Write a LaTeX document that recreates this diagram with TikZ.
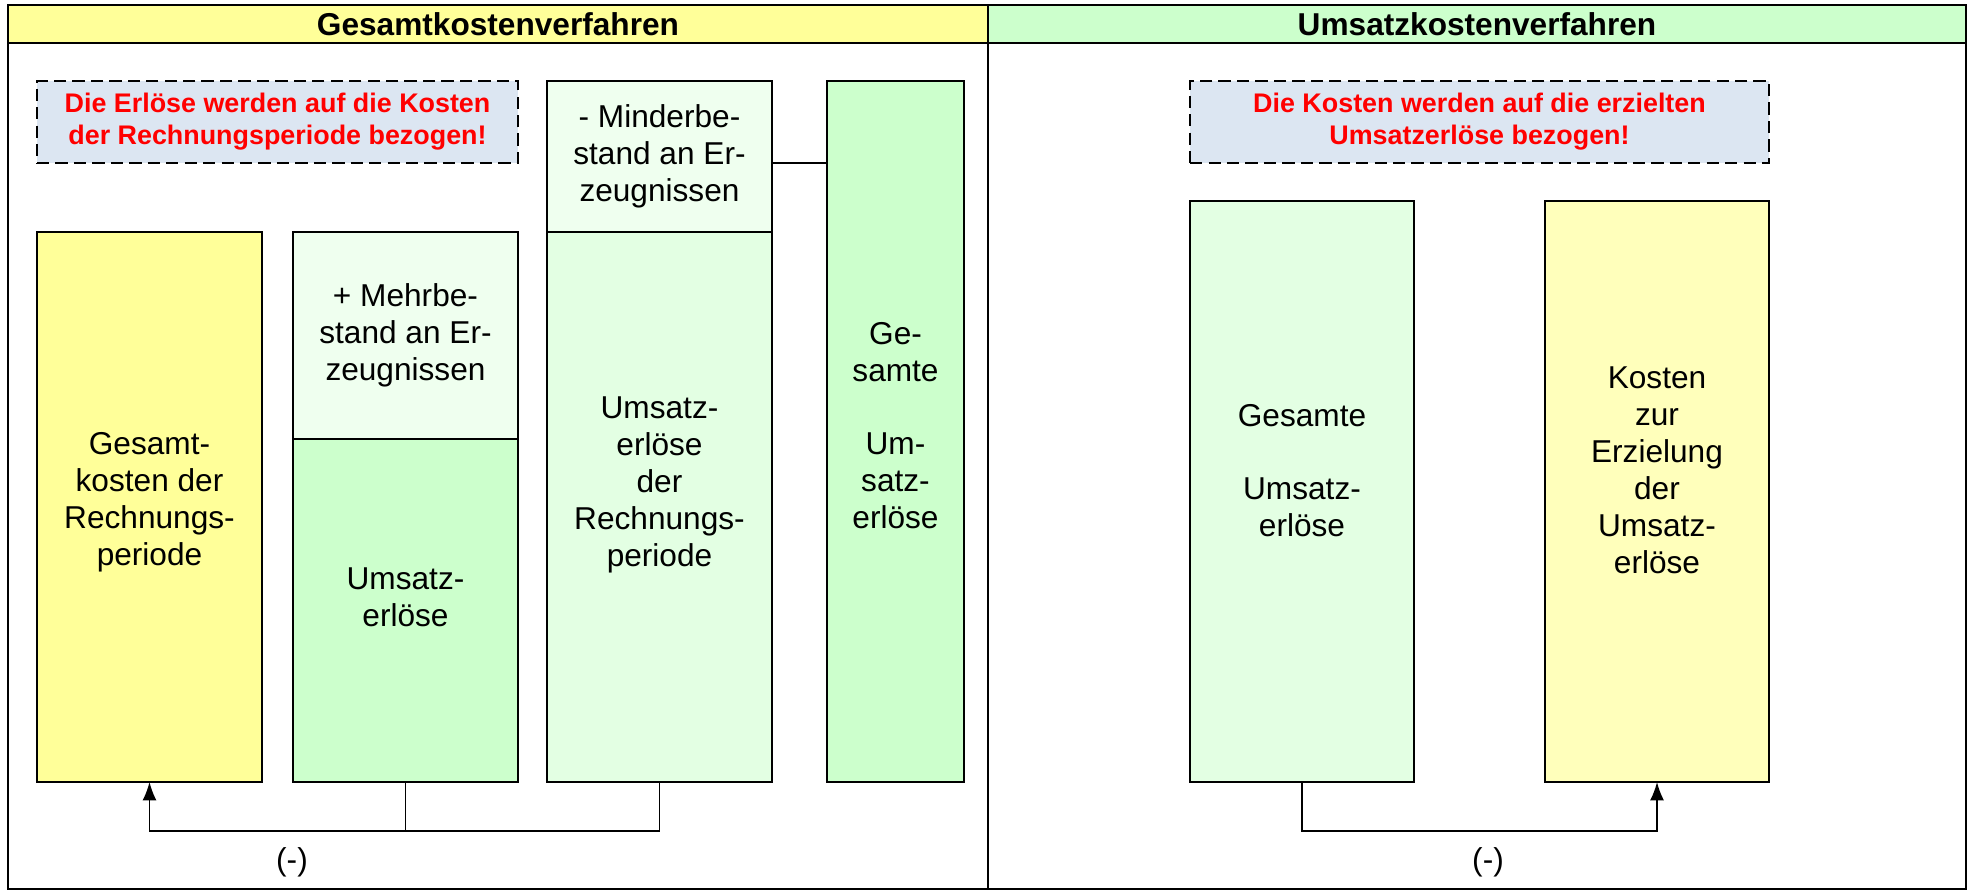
\documentclass[tikz,border=0pt]{standalone}
\usepackage{fontspec}
\setmainfont{Liberation Sans}
\usepackage{xcolor}
\usepackage{tikz}
\usetikzlibrary{arrows.meta,positioning}
\definecolor{kopfgelb}{HTML}{FFFF99}
\definecolor{kopfgruen}{HTML}{CCFFCC}
\definecolor{hinweisblau}{HTML}{DCE6F2}
\definecolor{blassgruen}{HTML}{EFFFEF}
\definecolor{mittelgruen}{HTML}{E3FFE3}
\definecolor{hellgelb}{HTML}{FFFFBB}
\tikzstyle{saeule} = [rectangle, draw, line width=1pt, outer sep=0pt, minimum width=4.5cm]
\tikzstyle{line} = [draw, line width=1pt, -{Latex[length=10.5pt,width=8pt]}]

\begin{document}
\begin{tikzpicture}[x=0.02cm, y=-0.02cm]
    % Style definitions
    \tikzstyle{kopf} = [rectangle, draw, line width=1.2pt, outer sep=0pt,
        minimum width=19.6cm, minimum height=0.76cm, font=\bfseries\fontsize{18}{21}\selectfont]
    \tikzstyle{hinweis} = [rectangle, draw, line width=1pt, dash pattern=on 7pt off 3.5pt,
        fill=hinweisblau, text=red, align=center, minimum height=1.64cm,
        font=\bfseries\fontsize{15.3}{18.3}\selectfont]
    \tikzstyle{txt} = [align=center, font=\fontsize{18}{21}\selectfont]

    \useasboundingbox (0,0) rectangle (1971,891);

    % Headers and frame
    \node [kopf, fill=kopfgelb] (gkvkopf) at (498,24) {Gesamtkostenverfahren};
    \node [kopf, fill=kopfgruen, minimum width=19.56cm] (ukvkopf) at (1477,24) {Umsatzkostenverfahren};
    \draw [line width=1.2pt] (8,5) rectangle (1966,889);
    \draw [line width=1.2pt] (988,5) -- (988,889);

    % Notes
    \node [hinweis, minimum width=9.62cm] (erloeshinweis) at (277.5,122)
        {Die Erlöse werden auf die Kosten\\der Rechnungsperiode bezogen!};
    \node [hinweis, minimum width=11.58cm] (kostenhinweis) at (1479.5,122)
        {Die Kosten werden auf die erzielten\\Umsatzerlöse bezogen!};

    % Gesamtkostenverfahren columns
    \node [saeule, fill=kopfgelb, minimum height=11cm] (gesamtkosten) at (149.5,507) {};
    \node [saeule, fill=kopfgruen, minimum height=6.86cm] (umsatzerl) at (405.5,610.5) {};
    \node [saeule, fill=blassgruen, minimum height=4.14cm, above=0pt of umsatzerl] (mehrbestand) {};
    \node [saeule, fill=mittelgruen, minimum height=11cm] (rperiode) at (659.5,507) {};
    \node [saeule, fill=blassgruen, minimum height=3.02cm, above=0pt of rperiode] (minderbestand) {};
    \node [saeule, fill=kopfgruen, minimum width=2.74cm, minimum height=14.02cm] (gesamtumsatz) at (895.5,431.5) {};

    % Umsatzkostenverfahren columns
    \node [saeule, fill=mittelgruen, minimum width=4.48cm, minimum height=11.62cm] (ukvumsatz) at (1302,491.5) {};
    \node [saeule, fill=hellgelb, minimum width=4.48cm, minimum height=11.62cm] (ukvkosten) at (1657,491.5) {};

    % Column texts
    \node [txt] (gesamtkosten-t) at ([yshift=0.1cm]gesamtkosten.center) {Gesamt-\\kosten der\\Rechnungs-\\periode};
    \node [txt] (mehrbestand-t) at (mehrbestand.center) {+ Mehrbe-\\stand an Er-\\zeugnissen};
    \node [txt] (umsatzerl-t) at ([yshift=0.26cm]umsatzerl.center) {Umsatz-\\erlöse};
    \node [txt] (minderbestand-t) at (minderbestand.center) {- Minderbe-\\stand an Er-\\zeugnissen};
    \node [txt] (rperiode-t) at ([yshift=0.44cm]rperiode.center) {Umsatz-\\erlöse\\der\\Rechnungs-\\periode};
    \node [txt] (gesamtumsatz-t) at ([yshift=0.12cm]gesamtumsatz.center) {Ge-\\samte\\[21pt]Um-\\satz-\\erlöse};
    \node [txt] (ukvumsatz-t) at ([yshift=0.42cm]ukvumsatz.center) {Gesamte\\[21pt]Umsatz-\\erlöse};
    \node [txt] (ukvkosten-t) at ([yshift=0.42cm]ukvkosten.center) {Kosten\\zur\\Erzielung\\der\\Umsatz-\\erlöse};

    % Connections
    \coordinate (mbanschluss) at ([yshift=-0.13cm]minderbestand.east);
    \draw [line width=1pt] (mbanschluss) -- (mbanschluss -| gesamtumsatz.west);
    \coordinate (gkvknick) at ([yshift=-0.98cm]umsatzerl.south);
    \path [line] (umsatzerl.south) -- (gkvknick) -| (gesamtkosten.south);
    \draw [line width=1pt] (rperiode.south) |- (gkvknick);
    \coordinate (ukvknick) at ([yshift=-0.98cm]ukvumsatz.south);
    \path [line] (ukvumsatz.south) -- (ukvknick) -| (ukvkosten.south);

    % Minus labels
    \node [txt] (gkvminus) at (292,862) {(-)};
    \node [txt] (ukvminus) at (1488,862) {(-)};
\end{tikzpicture}
\end{document}
